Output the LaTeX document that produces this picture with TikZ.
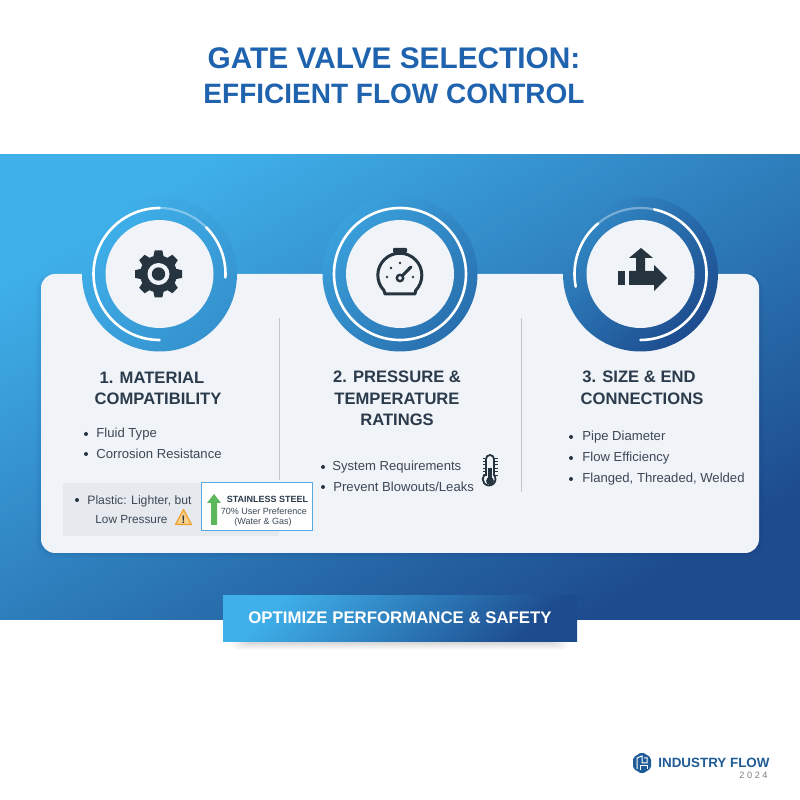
\documentclass[tikz,border=0pt]{standalone}
\usepackage{fontspec}
\setmainfont{Liberation Sans}
\newfontfamily\logofont[LetterSpace=28]{Liberation Sans}
\usepackage{xcolor}
\definecolor{bandLight}{HTML}{3FB0EA}
\definecolor{bandMid}{HTML}{2B7BBC}
\definecolor{bandDark}{HTML}{1D4C8E}
\definecolor{titleBlue}{HTML}{1F63AF}
\definecolor{cardGrey}{HTML}{F0F3F8}
\definecolor{noteGrey}{HTML}{E6EAEF}
\definecolor{inkDark}{HTML}{26343F}
\definecolor{headInk}{HTML}{2B3B4B}
\definecolor{bodyInk}{HTML}{3C4855}
\definecolor{logoBlue}{HTML}{1F5C96}
\definecolor{arrowGreen}{HTML}{5BB85B}
\definecolor{boxBlue}{HTML}{58A9E2}
\definecolor{warnFill}{HTML}{FBD08A}
\definecolor{warnLine}{HTML}{F0A030}
\usepackage{tikz}
\usetikzlibrary{positioning,calc}

\begin{document}
\begin{tikzpicture}[
  x=0.5pt, y=0.5pt,
  ringDisc/.style={circle, minimum size=77.5pt, inner sep=0pt, shading=axis, shading angle=45},
  faceDisc/.style={circle, fill=cardGrey, minimum size=54pt, inner sep=0pt},
  ringLine/.style={draw=white, line width=1.3pt, line cap=round},
  ringFaint/.style={draw=white, opacity=0.35, line width=1.1pt},
  headText/.style={font=\fontsize{8.3}{10}\selectfont\bfseries, text=headInk, inner sep=0pt},
  bodyText/.style={font=\fontsize{6.55}{8}\selectfont, text=bodyInk, inner sep=0pt, anchor=west},
  dotMark/.style={circle, fill=inkDark, minimum size=2pt, inner sep=0pt},
  rule/.style={draw=gray!45, line width=0.5pt},
  icon/.style={fill=inkDark, draw=none},
]

\useasboundingbox (0,0) rectangle (800,800);
\fill[white] (0,0) rectangle (800,800);

% title
\node[font=\fontsize{14.9}{18}\selectfont\bfseries, text=titleBlue, inner sep=0pt] (title1) at (394,742) {GATE VALVE SELECTION:};
\node[font=\fontsize{14}{18}\selectfont\bfseries, text=titleBlue, inner sep=0pt] (title2) at (394,706) {EFFICIENT FLOW CONTROL};

% blue band
\shade[top color=bandLight, middle color=bandMid, bottom color=bandDark, shading angle=30] (0,180) rectangle (800,645);

% card, soft shadow first
\foreach \s in {5,3,1.5} {
  \fill[black!70!blue, opacity=0.025, rounded corners=8pt] (41-\s,247-\s) rectangle (759+\s,526);
}
\fill[cardGrey, rounded corners=7pt] (41,247) rectangle (759,526);

% dividers
\draw[rule] (279,320) -- (279,482);
\draw[rule] (521,308) -- (521,482);

% three rings
\node[ringDisc, top color=bandLight, bottom color=bandLight!70!bandDark, shading angle=45] (ring1) at (159.5,526) {};
\node[ringDisc, top color=bandLight!85!bandDark, bottom color=bandLight!35!bandDark, shading angle=45] (ring2) at (400,526) {};
\node[ringDisc, top color=bandLight!60!bandDark, bottom color=bandDark, shading angle=45] (ring3) at (640.5,526) {};
\foreach \i/\cx in {1/159.5,2/400,3/640.5} {
  \node[faceDisc] (face\i) at (\cx,526) {};
}

% white arcs on the rings
\draw[ringLine] (159.5,526) ++(90:66) arc (90:270:66);
\draw[ringFaint] (159.5,526) ++(90:66) arc (90:45:66);
\draw[ringLine] (159.5,526) ++(45:66) arc (45:-3:66);
\draw[ringLine] (400,526) circle (66);
\draw[ringLine] (640.5,526) ++(130:66) arc (130:191:66);
\draw[ringFaint] (640.5,526) ++(130:66) arc (130:78:66);
\draw[ringLine] (640.5,526) ++(78:66) arc (78:-90:66);

% gear
\begin{scope}[shift={(158.5,526)}]
  \foreach \a in {0,45,...,315} {
    \fill[icon, rotate=\a] (16,-5.5) -- (23.5,-3.8) -- (23.5,3.8) -- (16,5.5) -- cycle;
  }
  \fill[icon] (0,0) circle (18.5);
  \fill[cardGrey] (0,0) circle (11);
  \fill[icon] (0,0) circle (6.7);
\end{scope}

% gauge
\begin{scope}[shift={(400,525)}]
  \draw[inkDark, line width=1.5pt, line join=round] (-15,-19) -- (-16,-15.5) arc (224:-44:22) -- (15,-19) -- cycle;
  \fill[icon, rounded corners=0.5pt] (-7,22) -- (7,22) -- (7,27) -- (-7,27) -- cycle;
  \fill[icon] (-2.5,20) rectangle (2.5,23);
  \draw[inkDark, line width=1.2pt] (0,-3) circle (3.2);
  \draw[inkDark, line width=1.5pt, line cap=round] (2.5,-0.5) -- (11,8);
  \foreach \tx/\ty in {-13/-2,-9/7,0/12,9/7,13/-2} {
    \fill[icon] (\tx,\ty) circle (1.4);
  }
\end{scope}

% flow arrows
\fill[icon] (618,515) rectangle (625,529);
\fill[icon] (629,515) -- (654,515) -- (654,509) -- (667,522) -- (654,535) -- (654,529) -- (629,529) -- cycle;
\fill[icon] (636,529) -- (636,542) -- (629,542) -- (641,552) -- (653,542) -- (645,542) -- (645,529) -- cycle;

% headings
\foreach \n/\x/\y/\txt in {h1/152/422/{1. MATERIAL},h2/158/401/{COMPATIBILITY},
    h3/397/423/{2. PRESSURE \&},h4/397/401/{TEMPERATURE},h5/397/380/{RATINGS},
    h6/639/423/{3. SIZE \& END},h7/642/401/{CONNECTIONS}} {
  \node[headText] (\n) at (\x,\y) {\txt};
}

% bullet lists
\foreach \n/\bx/\x/\y/\txt in {b1/86/96/366/{Fluid Type},b2/86/96/346/{Corrosion Resistance},
    b3/323/332/333/{System Requirements},b4/323/333/313/{Prevent Blowouts/Leaks},
    b5/571/582/363/{Pipe Diameter},b6/571/582/342/{Flow Efficiency},b7/571/582/321/{Flanged, Threaded, Welded}} {
  \node[dotMark] (\n dot) at (\bx,\y) {};
  \node[bodyText] (\n) at (\x,\y) {\txt};
}

% thermometer
\draw[inkDark, line width=0.9pt, fill=cardGrey] (486,325) -- (486,341) arc (180:0:4) -- (494,325) arc (40:-220:6.4) -- cycle;
\fill[icon] (490,319) circle (3.9);
\fill[icon] (488,319) rectangle (492,332);
\foreach \ty in {325,328.4,...,342} {
  \draw[inkDark, line width=0.4pt] (482.5,\ty) -- (485,\ty);
  \draw[inkDark, line width=0.4pt] (495,\ty) -- (498,\ty);
}

% plastic note
\fill[noteGrey] (63,264) rectangle (279,317);
\node[dotMark] (plasticDot) at (77,300) {};
\node[bodyText, font=\fontsize{6.1}{8}\selectfont] (plastic1) at (87,299) {Plastic: Lighter, but};
\node[bodyText, font=\fontsize{5.9}{8}\selectfont] (plastic2) at (95,281) {Low Pressure};
\draw[draw=warnLine, fill=warnFill, line width=0.6pt, line join=round] (175.5,275.5) -- (183.5,290.5) -- (191.5,275.5) -- cycle;
\node[font=\fontsize{5.5}{6}\selectfont\bfseries, text=inkDark, inner sep=0pt] (warn) at (183.5,280.5) {!};

% stainless box
\draw[draw=boxBlue, fill=white, line width=0.5pt] (201,269) rectangle (312,317);
\fill[arrowGreen] (211,275) -- (211,297) -- (207,297) -- (214,306) -- (221,297) -- (217,297) -- (217,275) -- cycle;
\node[font=\fontsize{4.5}{5}\selectfont\bfseries, text=headInk, inner sep=0pt] (steel1) at (267.5,301) {STAINLESS STEEL};
\node[font=\fontsize{4.5}{5}\selectfont, text=bodyInk, inner sep=0pt] (steel2) at (264,289) {70\% User Preference};
\node[font=\fontsize{4.5}{5}\selectfont, text=bodyInk, inner sep=0pt] (steel3) at (263,278) {(Water \& Gas)};

% banner
\foreach \s in {0,1,...,8} {
  \fill[black, opacity=0.02, rounded corners=3pt] (232+2*\s,150+\s) rectangle (568-2*\s,170);
}
\shade[top color=bandLight, bottom color=bandDark, shading angle=45] (223,158) rectangle (577,204);
\node[font=\fontsize{8.4}{10}\selectfont\bfseries, text=white, inner sep=0pt] (banner) at (400,182) {OPTIMIZE PERFORMANCE \& SAFETY};

% logo
\fill[logoBlue, rounded corners=1pt] (642,48) -- (651,42.5) -- (651,31.5) -- (642,26) -- (633,31.5) -- (633,42.5) -- cycle;
\draw[white, line width=0.5pt] (637,31) -- (637,42) -- (642,44) -- (642,37) -- (647,37) -- (647,42) -- (644,42);
\draw[white, line width=0.5pt] (640,30) -- (640,34) -- (647,34) -- (647,31);
\node[font=\fontsize{6.7}{9}\selectfont\bfseries, text=logoBlue, inner sep=0pt, anchor=west] (logoName) at (658,37) {INDUSTRY FLOW};
\node[font=\fontsize{4.6}{6}\selectfont\logofont, text=gray, inner sep=0pt, anchor=east] (logoYear) at (768,25) {2024};

\end{tikzpicture}
\end{document}
